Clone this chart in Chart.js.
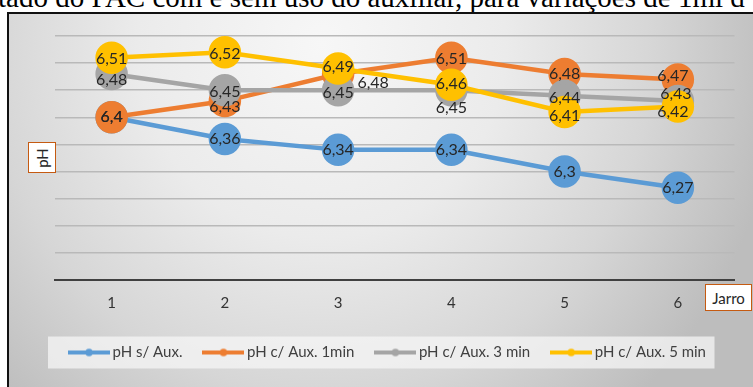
<!DOCTYPE html>
<html>
<head>
<meta charset="utf-8">
<script src="https://cdn.jsdelivr.net/npm/chart.js@4.4.1/dist/chart.umd.min.js"></script>
<style>
  html, body { margin: 0; padding: 0; background: #fff; }
  #wrap { position: relative; width: 753px; height: 387px; overflow: hidden; }
  #heading {
    position: absolute; left: -2px; top: -17px; white-space: nowrap;
    font-family: "Liberation Serif", "Times New Roman", serif; font-size: 29px;
    line-height: 1; color: #000;
  }
  #frame {
    position: absolute; left: 7px; top: 12px; width: 746px; height: 375px;
    box-sizing: border-box; border-left: 2px solid #111; border-top: 2px solid #111;
    background: radial-gradient(ellipse 62% 130% at 42% 8%, #f7f7f7 0%, #ebebeb 40%, #d6d6d6 72%, #bdbdbd 100%);
  }
  #chart { position: absolute; left: 0; top: 0; }
  .axbox {
    position: absolute; background: #fff; border: 1.5px solid #c55a11; box-sizing: border-box;
    font-family: Lato, "Open Sans", sans-serif; font-size: 15px; color: #262626;
    display: flex; align-items: center; justify-content: center;
  }
  #ytitle { left: 28px; top: 142px; width: 28px; height: 31px; }
  #ytitle span { display: inline-block; transform: rotate(-90deg); }
  #xtitle { left: 705px; top: 284px; width: 47px; height: 27px; }
</style>
</head>
<body>
<div id="wrap">
  <div id="heading">tado do PAC com e sem uso do auxiliar, para variações de 1ml d</div>
  <div id="frame"></div>
  <canvas id="chart" width="753" height="387"></canvas>
  <div class="axbox" id="ytitle"><span>pH</span></div>
  <div class="axbox" id="xtitle">Jarro</div>
</div>
<script>
// Jar numbers and measured pH for each treatment
const jarros = ['1', '2', '3', '4', '5', '6'];
const phSemAux = [6.40, 6.36, 6.34, 6.34, 6.30, 6.27];
const phAux1min = [6.40, 6.43, 6.48, 6.51, 6.48, 6.47];
const phAux3min = [6.48, 6.45, 6.45, 6.45, 6.44, 6.43];
const phAux5min = [6.51, 6.52, 6.49, 6.46, 6.41, 6.42];
const seriesNames = ['pH s/ Aux.', 'pH c/ Aux. 1min', 'pH c/ Aux. 3 min', 'pH c/ Aux. 5 min'];
const yMin = 6.10, yMax = 6.55, yStep = 0.05;

const seriesValues = [phSemAux, phAux1min, phAux3min, phAux5min];
const seriesColors = ['#5b9bd5', '#ed7d31', '#a5a5a5', '#ffc000'];

// label nudges (dx, dy) per series / jar so overlapping values stay readable
const labelNudge = [
  [[0, 0], [0, 0], [0, 0], [0, 0], [0, 0], [0, 0]],
  [[0, 0], [0, 6], [35, 9], [0, 1], [0, 0], [-5, -4]],
  [[0, 6], [0, 2], [0, 3], [0, 18], [0, 2], [-2, -7]],
  [[0, 1], [0, 2], [0, -2], [0, -1], [0, 4], [-5, 5]]
];

// small line-with-dot swatch for legend entries
function legendKey(color) {
  const c = document.createElement('canvas');
  c.width = 42; c.height = 10;
  const g = c.getContext('2d');
  g.strokeStyle = color; g.lineWidth = 4;
  g.beginPath(); g.moveTo(0, 5); g.lineTo(42, 5); g.stroke();
  g.fillStyle = color;
  g.beginPath(); g.arc(21, 5, 3.8, 0, Math.PI * 2); g.fill();
  return c;
}
const legendKeys = seriesColors.map(legendKey);

const valueLabels = {
  id: 'valueLabels',
  afterDatasetsDraw(chart, args, opts) {
    const ctx = chart.ctx;
    ctx.save();
    ctx.font = opts.font;
    ctx.fillStyle = opts.color;
    ctx.textAlign = 'center';
    ctx.textBaseline = 'middle';
    chart.data.datasets.forEach((ds, i) => {
      const meta = chart.getDatasetMeta(i);
      meta.data.forEach((pt, j) => {
        const n = opts.nudge[i][j];
        ctx.fillText(String(ds.data[j]).replace('.', ','), pt.x + n[0], pt.y + n[1]);
      });
    });
    ctx.restore();
  }
};

const legendBackdrop = {
  id: 'legendBackdrop',
  beforeDraw(chart) {
    const lg = chart.legend;
    if (!lg || !lg.legendHitBoxes || !lg.legendHitBoxes.length) return;
    const hb = lg.legendHitBoxes[0];
    const cy = hb.top + hb.height / 2;
    const ca = chart.chartArea;
    const ctx = chart.ctx;
    ctx.save();
    ctx.fillStyle = 'rgba(246,246,246,0.75)';
    ctx.fillRect(ca.left - 7, cy - 16, (ca.right - 20) - (ca.left - 7), 32);
    ctx.restore();
  }
};

const datasets = seriesValues.map((vals, i) => ({
  label: seriesNames[i],
  data: vals,
  borderColor: seriesColors[i],
  backgroundColor: seriesColors[i],
  pointBackgroundColor: seriesColors[i],
  pointBorderColor: seriesColors[i],
  pointRadius: 14,
  pointHoverRadius: 14,
  borderWidth: 4.5,
  tension: 0,
  order: seriesValues.length - i
}));

new Chart(document.getElementById('chart'), {
  type: 'line',
  data: { labels: jarros, datasets },
  plugins: [legendBackdrop, valueLabels],
  options: {
    responsive: false,
    animation: false,
    events: [],
    layout: { padding: { left: 31, right: 5, top: 36, bottom: 17 } },
    scales: {
      x: {
        offset: true,
        grid: { display: false, drawTicks: false },
        border: { display: true, color: '#404040', width: 2 },
        ticks: { color: '#333333', font: { family: 'Lato', size: 15 }, padding: 14 },
        afterFit(scale) { scale.height = 40; }
      },
      y: {
        min: yMin, max: yMax,
        ticks: { display: false, stepSize: yStep },
        grid: { color: '#b9b9b9', lineWidth: 1.5, drawTicks: false },
        border: { display: false },
        afterFit(scale) { scale.width = 24; }
      }
    },
    plugins: {
      tooltip: { enabled: false },
      legend: {
        position: 'bottom',
        labels: {
          usePointStyle: true,
          pointStyleWidth: 32,
          padding: 25,
          color: '#404040',
          font: { family: 'Lato', size: 15 },
          sort: (a, b) => a.datasetIndex - b.datasetIndex,
          generateLabels(chart) {
            return Chart.defaults.plugins.legend.labels.generateLabels(chart).map(it => {
              it.pointStyle = legendKeys[it.datasetIndex];
              return it;
            });
          }
        }
      },
      valueLabels: { font: '16px Lato', color: '#262626', nudge: labelNudge }
    }
  }
});
</script>
</body>
</html>
